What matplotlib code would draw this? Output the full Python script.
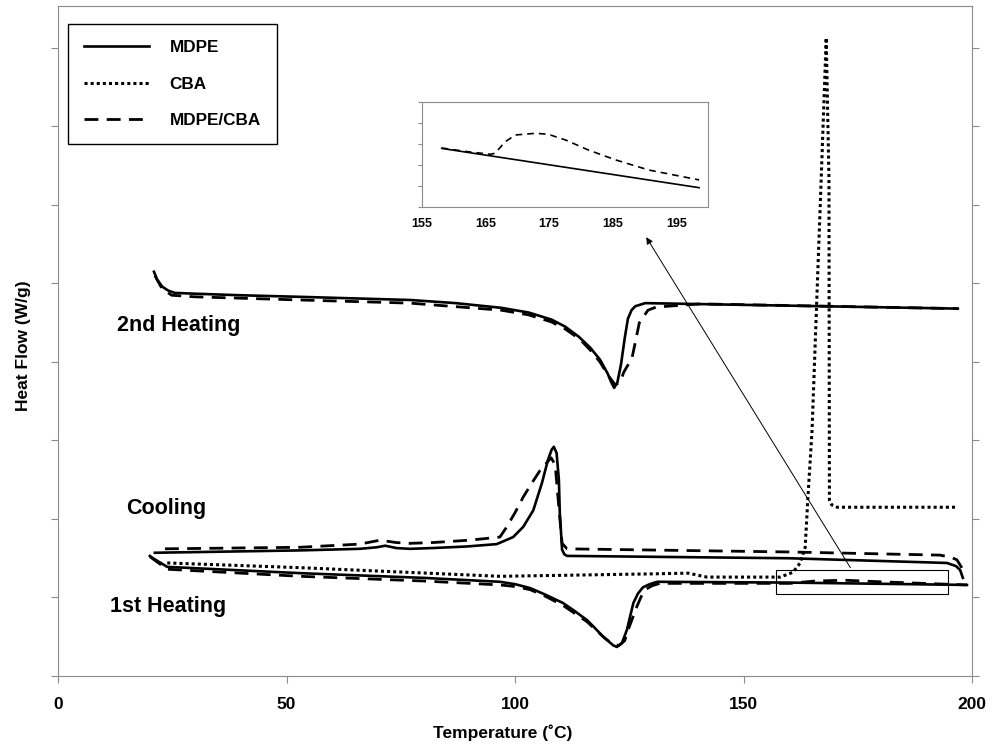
import numpy as np
import matplotlib
matplotlib.use('Agg')
import matplotlib.pyplot as plt

plt.rcParams['font.family'] = ['Liberation Sans', 'DejaVu Sans']
plt.rcParams['font.weight'] = 'bold'

# ---- datos (T en C, flujo en unidades arbitrarias) ----
# 1er calentamiento
t_h1_mdpe = [20.1, 20.8, 23.9, 53.0, 80.0, 96.7, 100.0, 103.3, 106.5, 110.5, 113.0, 115.8, 117.5, 119.3, 120.5,
             121.5, 122.3, 123.4, 124.5, 125.9, 126.9, 128.0, 129.5, 131.1, 160.0, 198.9]
f_h1_mdpe = [1.53, 1.50, 1.39, 1.31, 1.25, 1.20, 1.17, 1.12, 1.04, 0.93, 0.83, 0.71, 0.61, 0.50, 0.44,
             0.39, 0.37, 0.42, 0.59, 0.93, 1.05, 1.13, 1.17, 1.20, 1.19, 1.16]
t_h1_blend = [20.1, 23.9, 53.0, 80.0, 96.7, 100.0, 103.3, 106.5, 110.5, 113.0, 115.8, 117.8, 119.7, 121.5, 122.8,
              124.0, 124.9, 126.7, 127.6, 128.5, 130.0, 131.7, 160.2, 165.6, 172.2, 180.0, 194.1, 198.9]
f_h1_blend = [1.52, 1.36, 1.27, 1.21, 1.16, 1.14, 1.10, 1.02, 0.90, 0.80, 0.69, 0.58, 0.48, 0.40, 0.39,
              0.45, 0.61, 0.89, 1.01, 1.10, 1.15, 1.18, 1.18, 1.21, 1.22, 1.20, 1.17, 1.16]
t_h1_cba = [23.9, 53.0, 96.7, 129.0, 137.9, 142.0, 158.0, 160.8, 162.4, 163.5, 164.1, 165.0, 167.0, 168.1,
            168.7, 168.8, 169.3, 170.5, 196.9]
f_h1_cba = [1.44, 1.38, 1.27, 1.30, 1.31, 1.26, 1.26, 1.32, 1.44, 1.64, 2.28, 3.13, 6.33, 8.13,
            6.33, 2.24, 2.18, 2.15, 2.15]

# enfriamiento
t_c_mdpe = [21.2, 53.0, 66.0, 69.8, 71.6, 74.0, 77.0, 82.0, 89.5, 96.0, 99.6, 101.8, 104.0, 105.9, 107.2,
            108.0, 108.5, 109.1, 109.6, 109.8, 110.3, 110.8, 111.4, 160.0, 194.5, 196.5, 197.4, 198.0]
f_c_mdpe = [1.57, 1.60, 1.62, 1.64, 1.66, 1.63, 1.62, 1.63, 1.65, 1.68, 1.77, 1.90, 2.11, 2.46, 2.75,
            2.88, 2.92, 2.84, 2.50, 2.08, 1.61, 1.55, 1.53, 1.50, 1.44, 1.40, 1.35, 1.25]
t_c_blend = [23.4, 53.0, 66.0, 70.5, 74.0, 77.0, 82.0, 90.0, 96.7, 98.2, 100.0, 101.8, 103.7, 105.5, 107.0,
             107.9, 108.8, 109.4, 110.3, 111.4, 160.0, 193.0, 195.5, 196.7, 198.5]
f_c_blend = [1.62, 1.64, 1.68, 1.73, 1.70, 1.69, 1.70, 1.73, 1.77, 1.90, 2.08, 2.28, 2.46, 2.62, 2.72,
             2.78, 2.69, 2.28, 1.69, 1.62, 1.58, 1.54, 1.51, 1.48, 1.31]

# 2do calentamiento
t_h2_mdpe = [21.0, 21.7, 22.8, 24.1, 25.6, 30.0, 40.0, 53.0, 65.0, 77.0, 87.0, 97.0, 103.0, 108.0, 111.0,
             114.0, 116.5, 118.6, 120.3, 121.0, 121.7, 122.4, 123.2, 124.0, 124.7, 125.5, 126.3, 128.5, 196.9]
f_h2_mdpe = [5.15, 5.05, 4.96, 4.91, 4.88, 4.87, 4.85, 4.83, 4.81, 4.79, 4.75, 4.69, 4.63, 4.54, 4.45,
             4.32, 4.18, 4.03, 3.85, 3.75, 3.67, 3.74, 3.97, 4.30, 4.55, 4.66, 4.71, 4.75, 4.68]
t_h2_blend = [21.2, 22.8, 24.9, 30.0, 53.0, 77.0, 97.0, 103.0, 108.0, 111.0, 114.2, 116.5, 118.6, 120.5,
              121.9, 123.0, 123.8, 125.6, 126.5, 127.2, 129.1, 130.9, 140.5, 196.9]
f_h2_blend = [5.10, 4.93, 4.85, 4.83, 4.79, 4.75, 4.66, 4.60, 4.51, 4.42, 4.29, 4.15, 4.00, 3.82,
              3.71, 3.74, 3.87, 4.05, 4.30, 4.50, 4.66, 4.70, 4.74, 4.68]

# detalle (recuadro)
t_zoom_mdpe = [158.1, 198.6]
f_zoom_mdpe = [2.79, 0.92]
t_zoom_blend = [158.1, 162.0, 165.8, 166.5, 168.1, 169.7, 172.9, 174.9, 177.6, 181.2, 185.5, 190.7, 198.6]
f_zoom_blend = [2.81, 2.64, 2.51, 2.56, 3.11, 3.43, 3.51, 3.46, 3.19, 2.71, 2.24, 1.76, 1.29]

ls_dash = (0, (5, 3))
ls_dot = (0, (1, 1))
gris = '#8c8c8c'

fig = plt.figure(figsize=(9.97, 7.44), dpi=100)
ax = fig.add_axes([58/997, 1 - 676/744, 914/997, 670/744])

ax.plot(t_h1_mdpe, f_h1_mdpe, color='black', lw=1.9, label='MDPE')
ax.plot(t_h1_cba, f_h1_cba, color='black', lw=2.2, linestyle=ls_dot, label='CBA')
ax.plot(t_h1_blend, f_h1_blend, color='black', lw=2.0, linestyle=ls_dash, label='MDPE/CBA')
ax.plot(t_c_mdpe, f_c_mdpe, color='black', lw=1.9)
ax.plot(t_c_blend, f_c_blend, color='black', lw=2.0, linestyle=ls_dash)
ax.plot(t_h2_blend, f_h2_blend, color='black', lw=2.0, linestyle=ls_dash)
ax.plot(t_h2_mdpe, f_h2_mdpe, color='black', lw=1.9)

ax.set_xlim(0, 200)
ax.set_ylim(0, 8.535)
ax.set_xticks([0, 50, 100, 150, 200])
ax.set_yticks(range(0, 9))
ax.set_yticklabels([])
ax.tick_params(axis='both', direction='out', length=5, color=gris, labelsize=12.5)
ax.tick_params(axis='x', pad=10)
ax.tick_params(axis='y', right=True)
for s in ax.spines.values():
    s.set_color(gris)
ax.set_xlabel('Temperature (˚C)', fontsize=12.5, fontweight='bold')
ax.xaxis.set_label_coords(0.486, -0.073)
ax.set_ylabel('Heat Flow (W/g)', fontsize=12.5, fontweight='bold')
ax.yaxis.set_label_coords(-0.029, 0.4925)

ax.text(26.5, 4.47, '2nd Heating', fontsize=15.5, fontweight='bold', ha='center', va='center')
ax.text(23.6, 2.14, 'Cooling', fontsize=15.5, fontweight='bold', ha='center', va='center')
ax.text(24.1, 0.89, '1st Heating', fontsize=15.5, fontweight='bold', ha='center', va='center')

# recuadro de la zona ampliada y flecha
ax.add_patch(plt.Rectangle((157.2, 1.045), 37.6, 0.305, fill=False, edgecolor='black', lw=0.8))
ax.annotate('', xy=(128.4, 5.62), xytext=(173.7, 1.35),
            arrowprops=dict(arrowstyle='-|>', color='black', lw=0.7, mutation_scale=10))

leg = ax.legend(loc='upper left', bbox_to_anchor=(0.011, 0.973), borderaxespad=0,
                fancybox=False, edgecolor='black', framealpha=1, handlelength=3.8,
                labelspacing=1.25, borderpad=0.95, handletextpad=1.2,
                prop={'weight': 'bold', 'size': 12.3})
leg.get_frame().set_linewidth(1.0)

# grafico insertado
axi = fig.add_axes([422/997, 1 - 207/744, 286/997, 105/744])
axi.plot(t_zoom_mdpe, f_zoom_mdpe, color='black', lw=1.2)
axi.plot(t_zoom_blend, f_zoom_blend, color='black', lw=1.2, linestyle=(0, (4, 3)))
axi.set_xlim(155, 200)
axi.set_ylim(0, 5)
axi.set_xticks([155, 165, 175, 185, 195])
axi.set_yticks(range(0, 6))
axi.set_yticklabels([])
axi.tick_params(axis='x', length=0, labelsize=9, pad=8)
axi.tick_params(axis='y', direction='out', length=3, color=gris)
for s in axi.spines.values():
    s.set_color(gris)

fig.savefig('out.png', dpi=100)
